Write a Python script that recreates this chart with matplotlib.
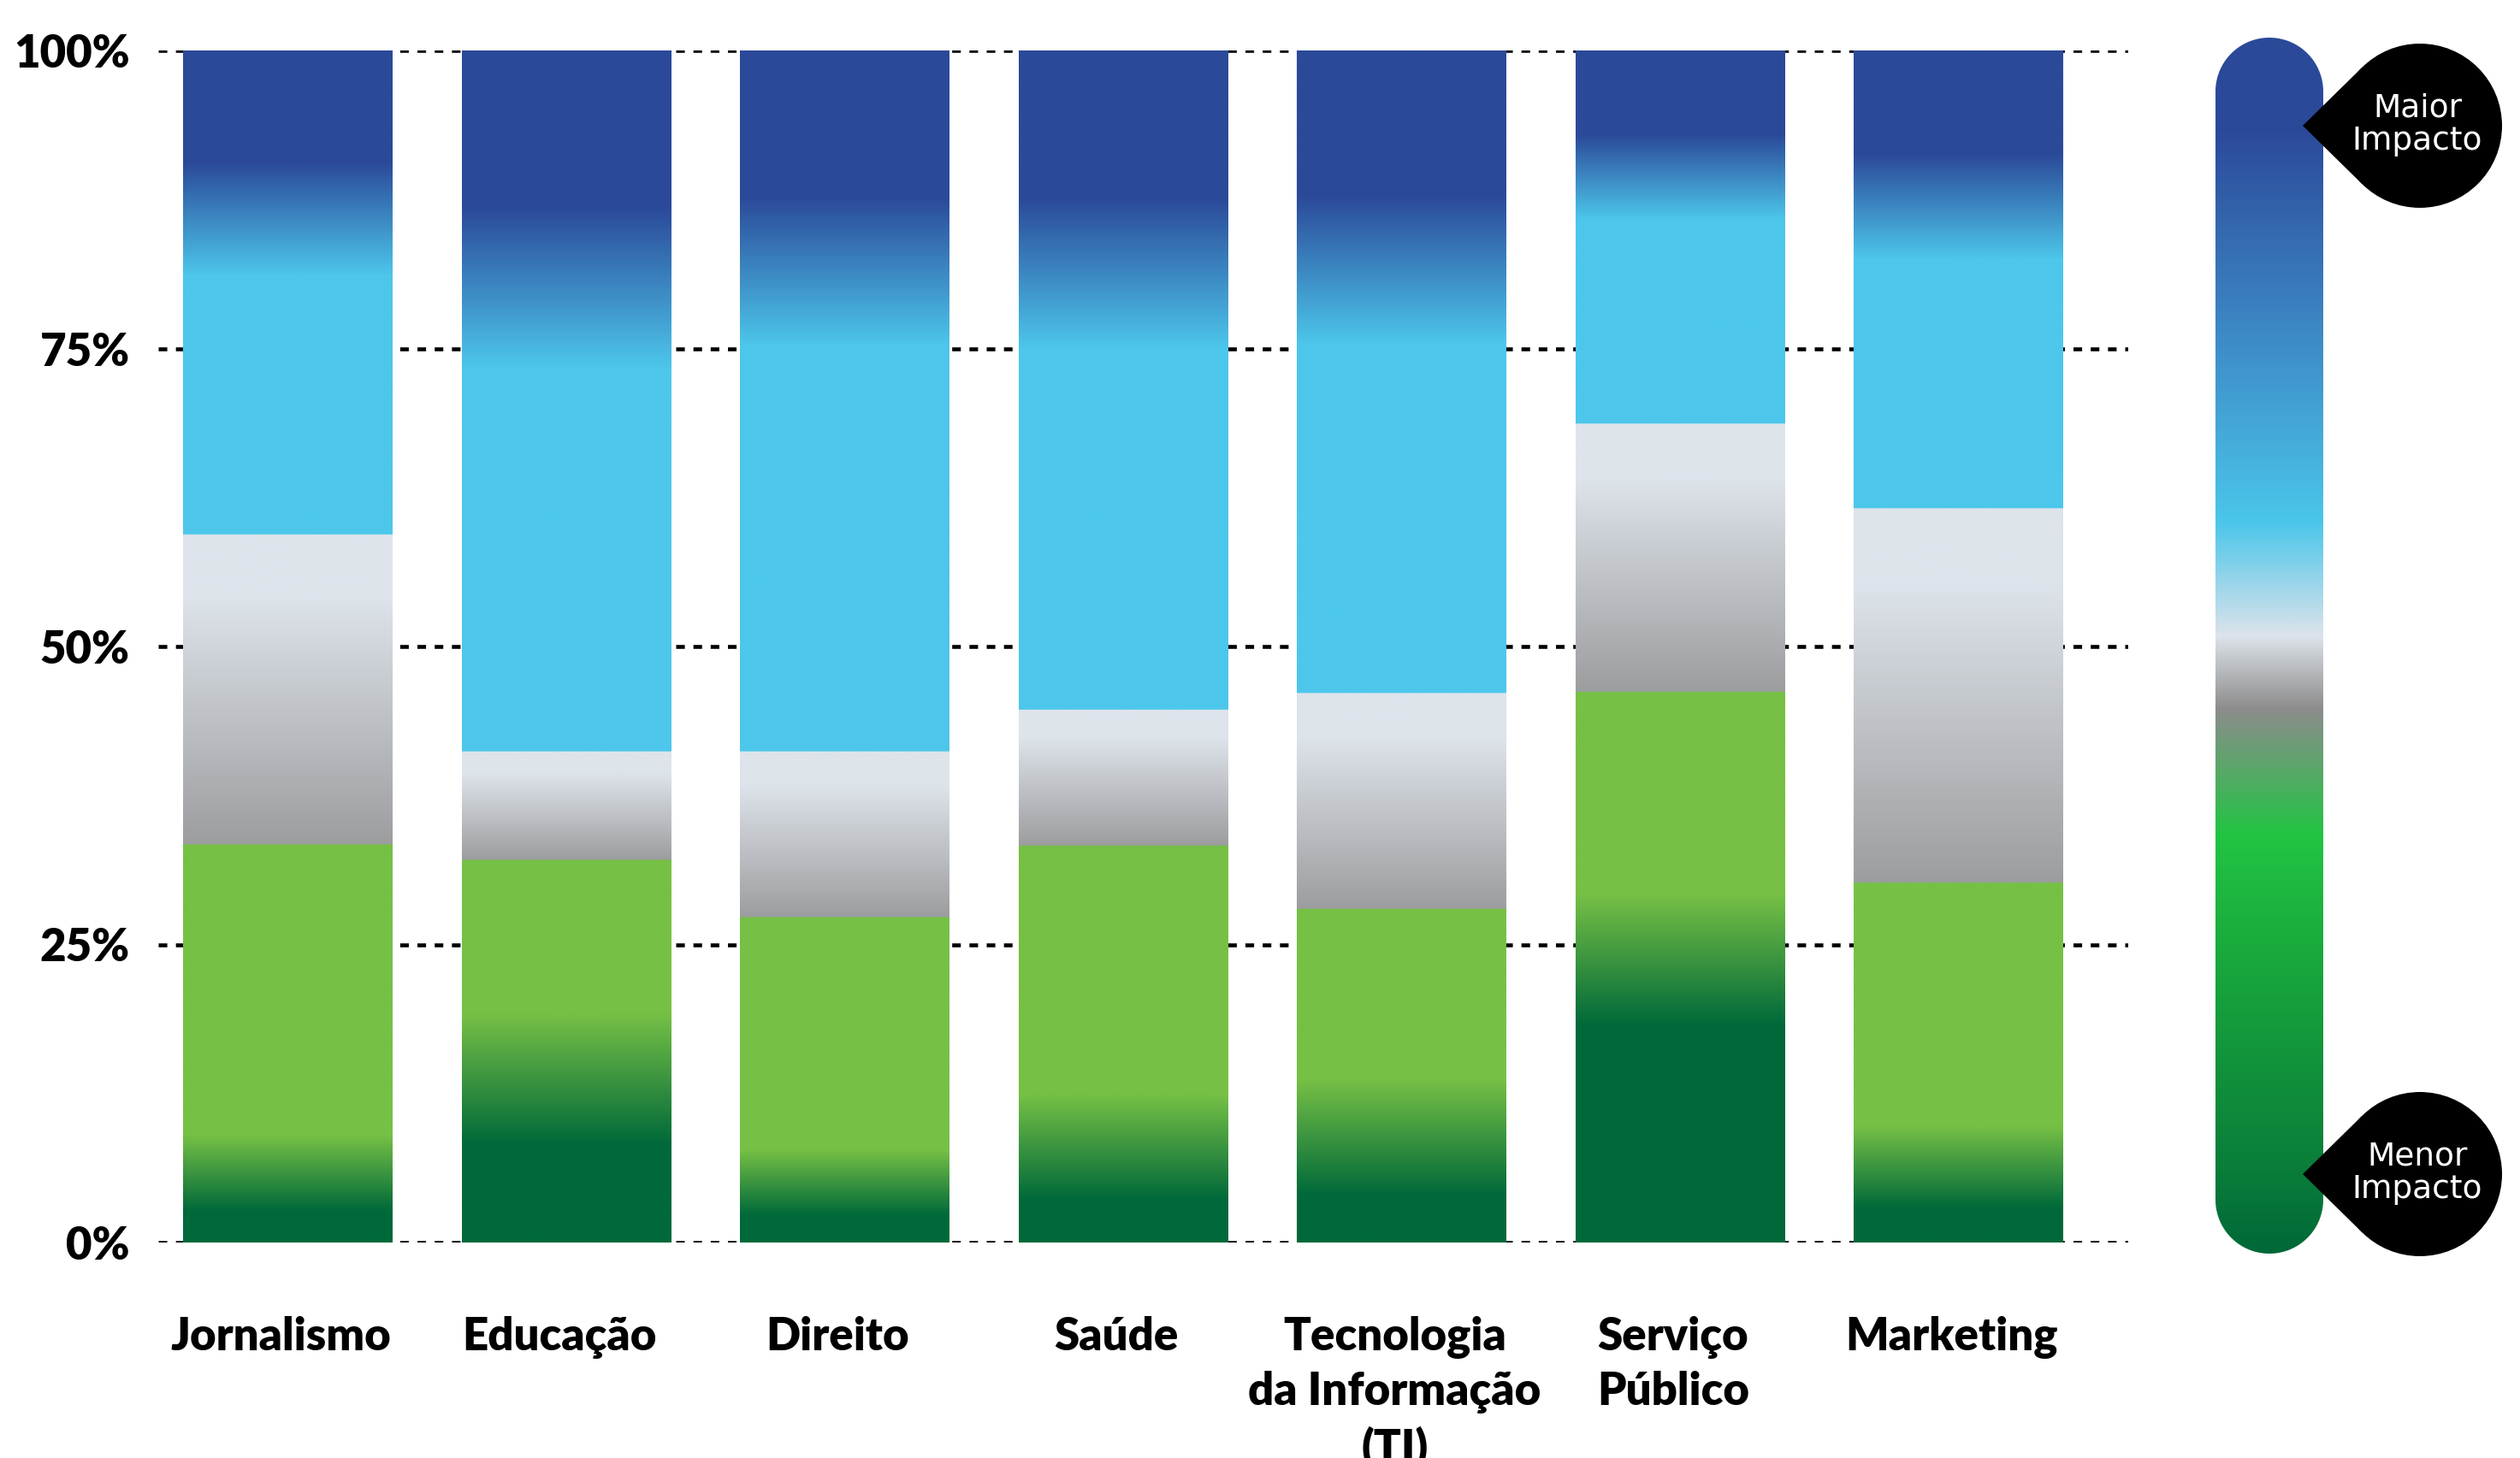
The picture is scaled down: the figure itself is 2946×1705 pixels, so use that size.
import numpy as np
import matplotlib
matplotlib.use('Agg')
import matplotlib.pyplot as plt
from matplotlib.colors import to_rgb
from matplotlib.patches import Polygon, Circle
from matplotlib.transforms import blended_transform_factory

# Share of answers per area, bottom to top (percent)
categories = ['Jornalismo', 'Educação', 'Direito', 'Saúde',
              'Tecnologia\nda Informação\n(TI)', 'Serviço\nPúblico', 'Marketing']
menor_impacto = [5.8, 13.7, 5.0, 8.0, 8.8, 23.7, 6.3]      # dark green
pouco_impacto = [27.6, 18.4, 22.3, 25.3, 19.2, 22.5, 23.9]  # light green
neutro = [26.0, 9.1, 13.9, 11.4, 18.1, 22.5, 31.4]          # gray
impacto = [26.5, 38.9, 40.3, 36.6, 35.5, 20.7, 25.3]        # light blue
maior_impacto = [14.1, 19.9, 18.5, 18.7, 18.4, 10.6, 13.1]  # dark blue
yticks = [0, 25, 50, 75, 100]
ytick_labels = ['0%', '25%', '50%', '75%', '100%']

C_DG = np.array(to_rgb('#00693A'))
C_LG = np.array(to_rgb('#76C045'))
C_GL = np.array(to_rgb('#DEE4EB'))
C_GD = np.array(to_rgb('#9C9D9F'))
C_LB = np.array(to_rgb('#4DC7EB'))
C_DB = np.array(to_rgb('#2B4999'))

W, H = 2946, 1705
fig = plt.figure(figsize=(W / 100, H / 100), dpi=100)
ax = fig.add_axes([185 / W, 1 - 1453 / H, (2488 - 185) / W, (1453 - 59) / H])

N = 2000
y = np.linspace(0, 100, N)
bar_w = 0.75


def bar_colors(dg, lg, gr, lb, db):
    c1 = dg
    c2 = dg + lg
    c3 = c2 + gr
    c4 = c3 + lb
    col = np.zeros((N, 3))
    # greens
    wg = min(1.1 * dg, 11)
    t = np.clip((y - (c1 - wg / 2)) / wg, 0, 1)[:, None]
    green = C_DG * (1 - t) + C_LG * t
    # gray
    s = np.clip((y - c2) / gr / 0.8, 0, 1)[:, None]
    gray = C_GD * (1 - s) + C_GL * s
    # blues
    wb = 0.68 * db
    t = np.clip((y - (c4 - wb / 2)) / wb, 0, 1)[:, None]
    blue = C_LB * (1 - t) + C_DB * t
    col[:] = blue
    col[y < c3] = gray[y < c3]
    col[y < c2] = green[y < c2]
    return col


for i in range(len(categories)):
    col = bar_colors(menor_impacto[i], pouco_impacto[i], neutro[i], impacto[i], maior_impacto[i])
    ax.imshow(col[:, None, :], origin='lower', aspect='auto', interpolation='bilinear',
              extent=(i - bar_w / 2, i + bar_w / 2, 0, 100), zorder=2)

for v in yticks:
    ax.axhline(v, color='black', lw=3.3, linestyle=(0, (2.2, 2.2)), dash_capstyle='butt', zorder=1)

ax.set_xlim(-0.465, 6.61)
ax.set_ylim(0, 100)
for sp in ax.spines.values():
    sp.set_visible(False)
ax.set_xticks([])
ax.set_yticks(yticks)
ax.set_yticklabels(ytick_labels, fontsize=38, fontweight='heavy', family='Lato')
ax.tick_params(axis='y', length=0, pad=24)

trans = blended_transform_factory(ax.transData, ax.transAxes)
for i, lab in enumerate(categories):
    ax.text(i - 0.025, -0.062, lab, transform=trans, ha='center', va='top', fontsize=38,
            fontweight='heavy', family='Lato', linespacing=1.35)

# legend: rounded gradient bar with callouts (pixel coords)
ov = fig.add_axes([0, 0, 1, 1], zorder=5)
ov.set_axis_off()
x0, x1, top, bot = 2590, 2716, 44, 1466
stops = [(44, '#2B4999'), (150, '#2B4999'), (345, '#3A7DBE'), (610, '#4BC6EA'),
         (744, '#DDE3EA'), (829, '#8C8C8C'), (976, '#22C443'), (1100, '#1AAC3D'),
         (1368, '#0A7D3A'), (1466, '#006838')]
py = np.linspace(top, bot, 1500)
sy = [s[0] for s in stops]
grad = np.stack([np.interp(py, sy, [to_rgb(s[1])[k] for s in stops]) for k in range(3)], axis=-1)

r = (x1 - x0) / 2
cx = (x0 + x1) / 2
th = np.linspace(np.pi, 0, 60)
upper = np.column_stack([cx + r * np.cos(th), top + r - r * np.sin(th)])
th2 = np.linspace(0, -np.pi, 60)
lower = np.column_stack([cx + r * np.cos(th2), bot - r - r * np.sin(th2)])
shape = Polygon(np.vstack([upper, lower]), closed=True, facecolor='none', edgecolor='none')
ov.add_patch(shape)
im = ov.imshow(grad[:, None, :], origin='upper', aspect='auto', interpolation='bilinear',
               extent=(x0, x1, bot, top))
im.set_clip_path(shape)

for cy, txt in [(147, 'Maior\nImpacto'), (1373, 'Menor\nImpacto')]:
    bx, br, tip = 2829, 96, 2692
    d = bx - tip
    a = np.arccos(br / d)
    p1 = (bx - br * np.cos(a), cy - br * np.sin(a))
    p2 = (bx - br * np.cos(a), cy + br * np.sin(a))
    ov.add_patch(Polygon([(tip, cy), p1, p2], closed=True, facecolor='black', edgecolor='none'))
    ov.add_patch(Circle((bx, cy), br, facecolor='black', edgecolor='none'))
    ov.text(2826, cy - 1, txt, ha='center', va='center', color='white', fontsize=27,
            family='DejaVu Sans', linespacing=1.08)

ov.set_xlim(0, W)
ov.set_ylim(H, 0)

fig.savefig('out.png', dpi=100)
